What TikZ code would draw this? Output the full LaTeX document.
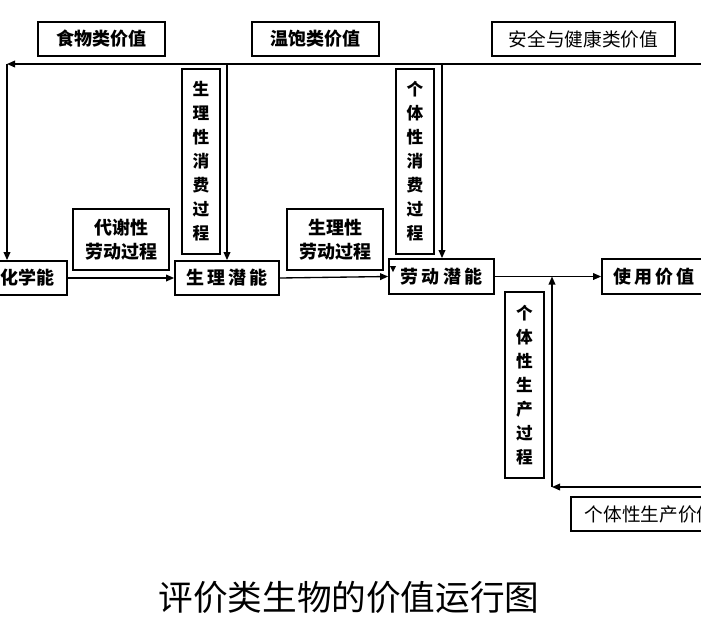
\documentclass[tikz,border=0pt]{standalone}
\usepackage{fontspec}
\newfontfamily\cjk{Noto Sans CJK SC}
\usetikzlibrary{arrows.meta}
\newcommand{\gp}{\hspace{2.5pt}}
\begin{document}
\begin{tikzpicture}[x=0.75pt,y=-0.75pt,
  box/.style={draw,line width=1.3pt,inner sep=0pt,align=center,font=\cjk\bfseries\fontsize{13.5}{18}\selectfont},
  rbox/.style={box,font=\cjk\fontsize{14}{18}\selectfont},
  vbox/.style={box,font=\cjk\bfseries\fontsize{12.5}{18}\selectfont},
  arr/.style={line width=1pt,-{Triangle[length=6pt,width=5pt]}},
  ln/.style={line width=1pt}]
\useasboundingbox[fill=white] (0,0) rectangle (701,633);
% top value boxes
\node[box,minimum width=127*0.75pt,minimum height=34*0.75pt] (food) at (101.5,39) {食物类价值};
\node[box,minimum width=127*0.75pt,minimum height=34*0.75pt] (warm) at (315.5,39) {温饱类价值};
\node[rbox,minimum width=183*0.75pt,minimum height=34*0.75pt] (safe) at (583.5,39) {安全与健康类价值};
% vertical process boxes
\node[vbox,minimum width=38*0.75pt,minimum height=185*0.75pt] (cons1) at (201,161.5) {生\\理\\性\\消\\费\\过\\程};
\node[vbox,minimum width=38*0.75pt,minimum height=185*0.75pt] (cons2) at (415,161.5) {个\\体\\性\\消\\费\\过\\程};
\node[vbox,minimum width=39*0.75pt,minimum height=186*0.75pt] (prod) at (524.5,385) {个\\体\\性\\生\\产\\过\\程};
% labor process boxes
\node[box,minimum width=96*0.75pt,minimum height=61*0.75pt] (metab) at (121,239.5) {代谢性\\劳动过程};
\node[box,minimum width=96*0.75pt,minimum height=61*0.75pt] (physlab) at (335,239.5) {生理性\\劳动过程};
% main chain
\node[box,minimum width=79*0.75pt,minimum height=34*0.75pt] (chem) at (27.5,278) {化学能};
\node[box,minimum width=104*0.75pt,minimum height=34*0.75pt] (phys) at (227,278) {生\gp 理\gp 潜\gp 能};
\node[box,minimum width=105*0.75pt,minimum height=35*0.75pt] (labor) at (441.5,276.5) {劳\gp 动\gp 潜\gp 能};
\node[box,minimum width=104*0.75pt,minimum height=35*0.75pt] (use) at (654,276.5) {使\gp 用\gp 价\gp 值};
\node[rbox,minimum width=158*0.75pt,minimum height=34*0.75pt] (prodval) at (650,514) {个体性生产价值};
% title
\node[font=\cjk\fontsize{26}{30}\selectfont,inner sep=0pt] (title) at (349,597) {评价类生物的价值运行图};
% connectors
\coordinate (topR) at (705,64);
\coordinate (c1) at (7,64);
\coordinate (c2) at (227,64);
\coordinate (c3) at (442,64);
\draw[arr] (topR) -- (c1);
\draw[arr] (c1) -- (c1 |- chem.north);
\draw[arr] (c2) -- (c2 |- phys.north);
\draw[arr] (c3) -- (c3 |- labor.north);
\draw[arr] (chem.east) -- (phys.west);
\draw[arr] (phys.east) -- (labor.west);
\draw[arr] (labor.east) -- (use.west);
\coordinate (bR) at (705,487);
\coordinate (c4) at (552,487);
\draw[arr] (bR) -- (c4);
\draw[arr] (c4) -- (c4 |- labor.east);
% small marker inside labor box
\fill (390,266) -- (396,266) -- (393,272) -- cycle;
\end{tikzpicture}
\end{document}
